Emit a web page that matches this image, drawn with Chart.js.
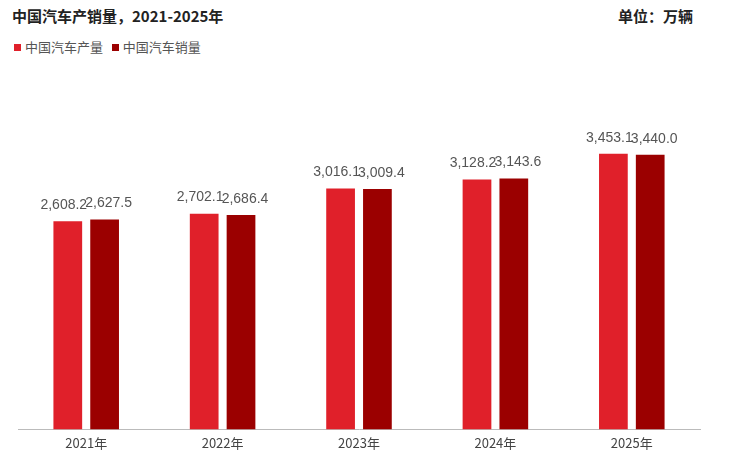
<!DOCTYPE html>
<html><head><meta charset="utf-8">
<script src="https://cdn.jsdelivr.net/npm/chart.js@4"></script>
<style>
body{margin:0;width:729px;height:461px;background:#fff;font-family:"Noto Sans CJK SC","Noto Sans",sans-serif;position:relative;overflow:hidden}
#t{position:absolute;left:12px;top:5px;font-size:15px;font-weight:bold;color:#222}
#u{position:absolute;right:36px;top:5px;font-size:15px;font-weight:bold;color:#222}
#lg{position:absolute;left:14px;top:37px;font-size:13px;color:#555}
#lg span.b{display:inline-block;width:7px;height:7px;margin-right:4px;vertical-align:1px}
#c{position:absolute;left:0;top:60px}
</style></head><body>
<div id="t">中国汽车产销量，2021-2025年</div>
<div id="u">单位：万辆</div>
<div id="lg"><span class="b" style="background:#e0202a"></span>中国汽车产量&nbsp;&nbsp;&nbsp;<span class="b" style="background:#9b0000"></span>中国汽车销量</div>
<canvas id="c" width="729" height="401"></canvas>
<script>
const categories=["2021年","2022年","2023年","2024年","2025年"];
const production=[2608.2,2702.1,3016.1,3128.2,3453.1];
const sales=[2627.5,2686.4,3009.4,3143.6,3440.0];
const labelPlugin={id:"lbl",afterDatasetsDraw(ch){const c=ch.ctx;c.save();c.font='14px "Liberation Sans","DejaVu Sans",sans-serif';c.fillStyle="#555";c.textAlign="center";c.textBaseline="bottom";
ch.data.datasets.forEach((d,i)=>{ch.getDatasetMeta(i).data.forEach((b,j)=>{c.fillText(d.data[j].toLocaleString("en-US",{minimumFractionDigits:1,maximumFractionDigits:1}),b.x+(i===0?-4:4),b.y-9);});});c.restore();}};
new Chart(document.getElementById("c"),{type:"bar",
data:{labels:categories,datasets:[
{label:"中国汽车产量",data:production,backgroundColor:"#e0202a",categoryPercentage:0.54,barPercentage:0.78},
{label:"中国汽车销量",data:sales,backgroundColor:"#9b0000",categoryPercentage:0.54,barPercentage:0.78}]},
options:{responsive:false,animation:false,layout:{padding:{top:50,left:18,right:29,bottom:4}},
plugins:{legend:{display:false},tooltip:{enabled:false}},
scales:{y:{display:false,min:0,max:4000},
x:{grid:{display:false,drawTicks:false},border:{color:"#bbb"},ticks:{color:"#444",padding:6,font:{size:13,family:'"Noto Sans CJK SC",sans-serif'}}}}},
plugins:[labelPlugin]});
</script></body></html>
